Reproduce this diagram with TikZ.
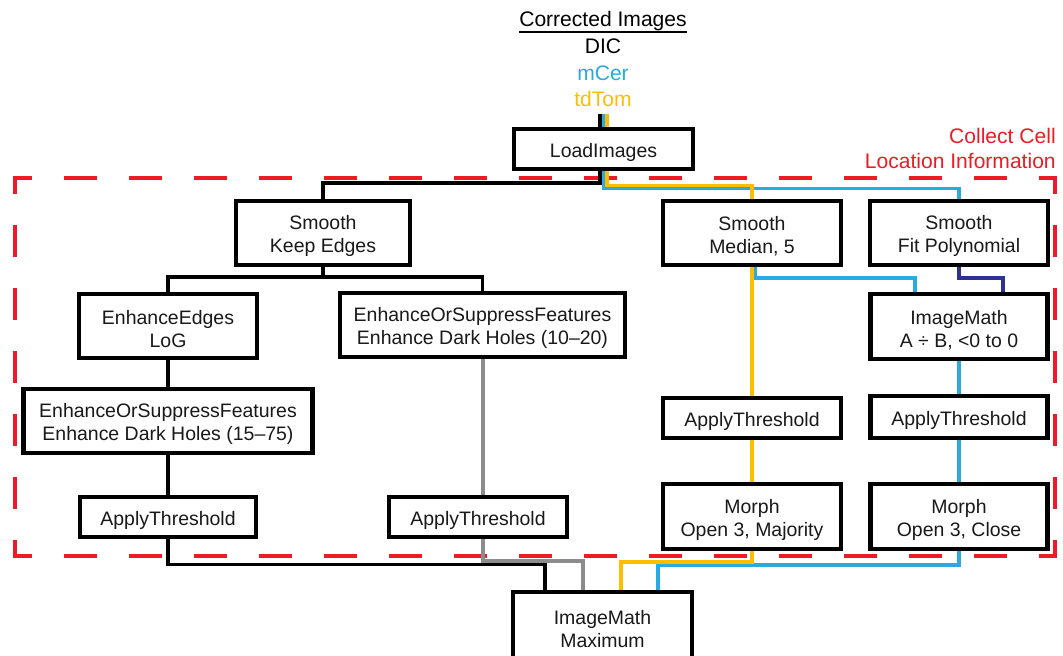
\documentclass[tikz,border=0pt]{standalone}
\usepackage{fontspec}
\setmainfont{Liberation Sans}
\usetikzlibrary{backgrounds}
\definecolor{cellred}{RGB}{237,28,36}
\definecolor{mcer}{RGB}{41,171,226}
\definecolor{tdtom}{RGB}{255,189,0}
\definecolor{polynavy}{RGB}{46,49,146}
\definecolor{midgray}{RGB}{140,140,140}
\newcommand{\boxfont}{\fontsize{14.6pt}{17.4pt}\selectfont}
\newcommand{\labelfont}{\fontsize{15.8pt}{19pt}\selectfont}
% taller first line: sets box text a little lower in its frame
\newcommand{\lift}{\rule{0pt}{15.6pt}}
\begin{document}
\begin{tikzpicture}[x=0.75pt,y=-0.75pt,
  stepbox/.style={draw=black, line width=3.1pt, fill=white, align=center,
    inner sep=0pt, font=\boxfont, text=black!90,
    minimum width=133.5pt, minimum height=48pt},
  onerow/.style={minimum height=30.5pt},
  link/.style={line width=2.4pt},
  kline/.style={link, draw=black},
  cline/.style={link, draw=mcer},
  oline/.style={link, draw=tdtom},
  nline/.style={link, draw=polynavy},
  gline/.style={link, draw=midgray},
  hframe/.style={draw=cellred, line width=3pt, line cap=rect,
    dash pattern=on 21.75pt off 27pt, dash phase=10.875pt},
  vframe/.style={draw=cellred, line width=3pt, line cap=rect,
    dash pattern=on 21pt off 26.25pt, dash phase=10.5pt},
  label/.style={font=\labelfont, anchor=base, inner sep=0pt}]

\useasboundingbox (0,0) rectangle (1063,656);

% region label and input names
\node[label, anchor=base east, text=cellred] (reg1) at (1056,144) {Collect Cell};
\node[label, anchor=base east, text=cellred] (reg2) at (1056,169) {Location Information};
\node[label] (title) at (603,27) {Corrected Images};
\draw[line width=1.5pt] ([yshift=-3.8pt]title.base west) -- ([yshift=-3.8pt]title.base east);
\node[label] (dic) at (603,54) {DIC};
\node[label, text=mcer] (mcer) at (603,81) {mCer};
\node[label, text=tdtom] (tdtom) at (603,107) {tdTom};

% modules
\node[stepbox, onerow, minimum width=134.25pt] (load) at (603.5,149) {\lift LoadImages};
\node[stepbox, minimum width=130.5pt] (sKeep) at (323,233) {\lift Smooth\\Keep Edges};
\node[stepbox] (sMed) at (752,233) {\lift Smooth\\Median, 5};
\node[stepbox] (sFit) at (959,233) {\lift Smooth\\Fit Polynomial};
\node[stepbox] (eEdges) at (168,326) {\lift EnhanceEdges\\LoG};
\node[stepbox, minimum width=213.75pt] (eosf1) at (482.5,325) {\lift EnhanceOrSuppressFeatures\\Enhance Dark Holes (10--20)};
\node[stepbox, minimum width=216.75pt] (eosf2) at (168,421) {\lift EnhanceOrSuppressFeatures\\Enhance Dark Holes (15--75)};
\node[stepbox, onerow, minimum width=132pt] (th1) at (168,517) {\lift ApplyThreshold};
\node[stepbox, onerow] (th2) at (478,517) {\lift ApplyThreshold};
\node[stepbox, onerow] (th3) at (752,418) {\lift ApplyThreshold};
\node[stepbox, minimum height=48.75pt, minimum width=132.75pt] (imA) at (959,326.5) {\lift ImageMath\\A ÷ B, <0 to 0};
\node[stepbox, onerow, minimum height=31.5pt, minimum width=132.75pt] (th4) at (959,417) {\lift ApplyThreshold};
\node[stepbox, minimum height=48.75pt] (morph1) at (752,516.5) {\lift Morph\\Open 3, Majority};
\node[stepbox, minimum height=48.75pt, minimum width=132.75pt] (morph2) at (959,516.5) {\lift Morph\\Open 3, Close};
\node[stepbox, minimum height=50.25pt, minimum width=134.25pt] (max) at (602.5,625.5) {\lift ImageMath\\Maximum};

% lane positions
\coordinate (kx) at (600,0);
\coordinate (cx) at (603.5,0);
\coordinate (ox) at (607,0);
\coordinate (inTop) at (0,114);
\coordinate (ky) at (0,183);
\coordinate (oy) at (0,185.5);
\coordinate (cy) at (0,188.5);
\coordinate (bry) at (0,277);
\coordinate (abY) at (0,278);
\coordinate (c2x) at (755,0);
\coordinate (ax) at (915,0);
\coordinate (bx) at (1003,0);
\coordinate (gx) at (483,0);
\coordinate (mkx) at (545,0);
\coordinate (mgx) at (583,0);
\coordinate (mox) at (621,0);
\coordinate (mcx) at (658,0);
\coordinate (kbY) at (0,564.5);
\coordinate (gbY) at (0,561);
\coordinate (obY) at (0,562);
\coordinate (cbY) at (0,565);

\coordinate (f1) at (15,178);
\coordinate (f2) at (1055,178);
\coordinate (f3) at (1055,556);
\coordinate (f4) at (15,556);

\begin{pgfonlayer}{background}
% dashed region frame
\draw[hframe] (f1) -- (f2);
\draw[hframe] (f4) -- (f3);
\draw[vframe] (f1) -- (f4);
\draw[vframe] (f2) -- (f3);

% channels into LoadImages
\draw[kline] (kx |- inTop) -- (kx |- load.north);
\draw[cline] (cx |- inTop) -- (cx |- load.north);
\draw[oline] (ox |- inTop) -- (ox |- load.north);

% LoadImages to the three smoothing modules
\draw[kline] (kx |- load.south) |- (ky -| sKeep.north) -- (sKeep.north);
\draw[cline] (cx |- load.south) |- (cy -| sFit.north) -- (sFit.north);
\draw[oline] (ox |- load.south) |- (oy -| sMed.north) -- (sMed.north);

% DIC branch
\draw[kline] (sKeep.south) -- (sKeep.south |- bry);
\draw[kline] (eEdges.north) |- (bry -| eosf1.north) -- (eosf1.north);
\draw[kline] (eEdges.south) -- (eosf2.north);
\draw[kline] (eosf2.south) -- (th1.north);
\draw[gline] (gx |- eosf1.south) -- (gx |- th2.north);

% mCer branch
\draw[cline] (c2x |- sMed.south) |- (abY -| ax) -- (ax |- imA.north);
\draw[nline] (sFit.south) |- (abY -| bx) -- (bx |- imA.north);
\draw[cline] (imA.south) -- (th4.north);
\draw[cline] (th4.south) -- (morph2.north);

% tdTom branch
\draw[oline] (sMed.south) -- (th3.north);
\draw[oline] (th3.south) -- (morph1.north);

% masks into the final maximum
\draw[kline] (th1.south) |- (kbY -| mkx) -- (mkx |- max.north);
\draw[gline] (gx |- th2.south) |- (gbY -| mgx) -- (mgx |- max.north);
\draw[cline] (morph2.south) |- (cbY -| mcx) -- (mcx |- max.north);
\draw[oline] (morph1.south) |- (obY -| mox) -- (mox |- max.north);
\end{pgfonlayer}

\end{tikzpicture}
\end{document}
